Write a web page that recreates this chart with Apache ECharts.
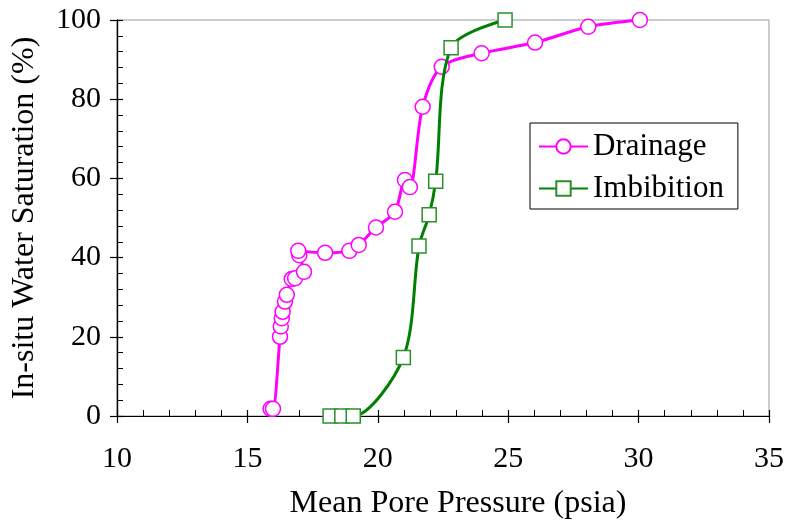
<!DOCTYPE html>
<html>
<head>
<meta charset="utf-8">
<script src="https://cdn.jsdelivr.net/npm/echarts@6/dist/echarts.min.js"></script>
<style>
html,body{margin:0;padding:0;background:#fff;}
#c{width:792px;height:525px;}
</style>
</head>
<body>
<div id="c"></div>
<script>
const seriesNames = ['Drainage', 'Imbibition'];
const drainageX = [15.89, 15.98, 16.25, 16.28, 16.32, 16.35, 16.44, 16.51, 16.70, 16.83, 17.17, 16.99, 16.95, 17.98, 18.91, 19.27, 19.93, 20.66, 21.04, 21.23, 21.72, 22.45, 23.98, 26.03, 28.07, 30.05];
const drainageY = [1.8, 1.8, 20.0, 22.6, 24.7, 26.3, 28.9, 30.6, 34.6, 34.8, 36.4, 40.6, 41.7, 41.2, 41.7, 43.2, 47.6, 51.6, 59.6, 57.8, 78.1, 88.2, 91.6, 94.3, 98.3, 100.0];
const imbibitionX = [18.17, 18.62, 19.06, 20.98, 21.58, 21.97, 22.22, 22.81, 24.88];
const imbibitionY = [0, 0, 0, 14.8, 42.9, 50.8, 59.3, 93.0, 100.0];
const xTicks = [10, 15, 20, 25, 30, 35];
const yTicks = [0, 20, 40, 60, 80, 100];
const xTitle = 'Mean Pore Pressure (psia)';
const yTitle = 'In-situ Water Saturation (%)';

const FONT = '"Liberation Serif", "Times New Roman", serif';
const zip = (a, b) => a.map((v, i) => [v, b[i]]);

const xMin = xTicks[0], xMax = xTicks[xTicks.length - 1], xInt = xTicks[1] - xTicks[0];
const yMin = yTicks[0], yMax = yTicks[yTicks.length - 1], yInt = yTicks[1] - yTicks[0];

const chart = echarts.init(document.getElementById('c'), null, {renderer: 'canvas'});
const axisLine = {show: true, lineStyle: {color: '#000', width: 1.2}};
chart.setOption({
  animation: false,
  backgroundColor: '#fff',
  grid: {left: 117, right: 23, top: 20, bottom: 109, show: true, borderColor: '#999', borderWidth: 1, backgroundColor: 'transparent'},
  xAxis: [
    {type: 'value', position: 'bottom', min: xMin, max: xMax, interval: xInt,
     axisLine: axisLine, splitLine: {show: false},
     axisTick: {show: true, inside: false, length: 7, lineStyle: {color: '#000', width: 1.2}},
     axisLabel: {fontFamily: FONT, fontSize: 30, color: '#000', margin: 28},
     name: xTitle, nameLocation: 'middle', nameGap: 72,
     nameTextStyle: {fontFamily: FONT, fontSize: 32, color: '#000', padding: [0, 0, 0, 30]}},
    {type: 'value', position: 'bottom', min: xMin, max: xMax, interval: xInt,
     axisLine: axisLine, splitLine: {show: false},
     axisTick: {show: true, inside: true, length: 6, lineStyle: {color: '#000', width: 1.2}},
     minorTick: {show: true, splitNumber: 5, length: 6, lineStyle: {color: '#000', width: 1}},
     axisLabel: {show: false}}
  ],
  yAxis: [
    {type: 'value', position: 'left', min: yMin, max: yMax, interval: yInt,
     axisLine: axisLine, splitLine: {show: false},
     axisTick: {show: true, inside: false, length: 7, lineStyle: {color: '#000', width: 1.2}},
     axisLabel: {fontFamily: FONT, fontSize: 30, color: '#000', margin: 16},
     name: yTitle, nameLocation: 'middle', nameGap: 76, nameRotate: 90,
     nameTextStyle: {fontFamily: FONT, fontSize: 32, color: '#000'}},
    {type: 'value', position: 'left', min: yMin, max: yMax, interval: yInt,
     axisLine: axisLine, splitLine: {show: false},
     axisTick: {show: true, inside: true, length: 6, lineStyle: {color: '#000', width: 1.2}},
     minorTick: {show: true, splitNumber: 5, length: 6, lineStyle: {color: '#000', width: 1}},
     axisLabel: {show: false}}
  ],
  legend: {
    left: 530, top: 123, orient: 'vertical',
    data: seriesNames,
    itemWidth: 49, itemHeight: 18, itemGap: 11,
    padding: [8, 14, 5, 8],
    borderColor: '#000', borderWidth: 1, backgroundColor: '#fff',
    textStyle: {fontFamily: FONT, fontSize: 31, color: '#000'}
  },
  series: [
    {name: seriesNames[0], type: 'line', xAxisIndex: 0, yAxisIndex: 0,
     data: zip(drainageX, drainageY), smooth: 0.3,
     symbol: 'circle', symbolSize: 15,
     lineStyle: {color: '#ff00ff', width: 3},
     itemStyle: {color: '#fff', borderColor: '#ff00ff', borderWidth: 1.5},
     z: 3},
    {name: seriesNames[1], type: 'line', xAxisIndex: 0, yAxisIndex: 0,
     data: zip(imbibitionX, imbibitionY), smooth: 0.3,
     symbol: 'rect', symbolSize: 14,
     lineStyle: {color: '#008000', width: 3},
     itemStyle: {color: '#fff', borderColor: '#2a8f2a', borderWidth: 1.5},
     z: 4}
  ]
});
</script>
</body>
</html>
